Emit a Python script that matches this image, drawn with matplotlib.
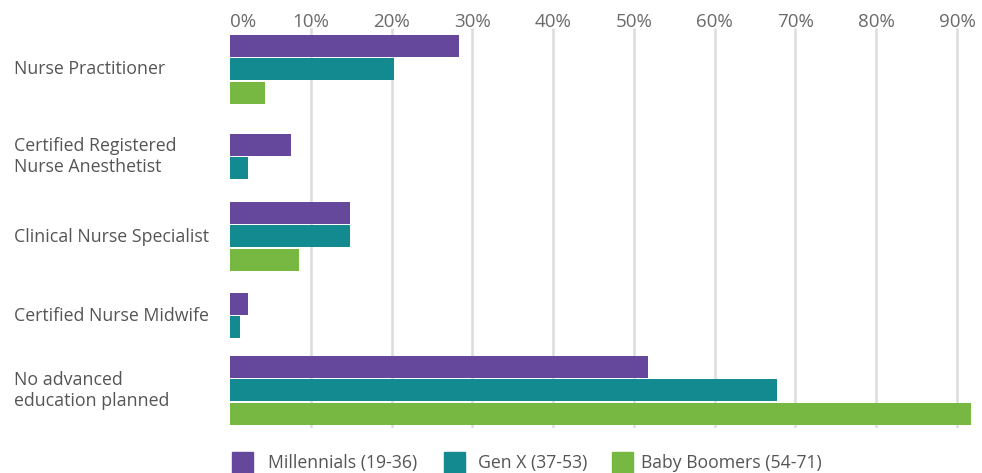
import matplotlib.pyplot as plt
from matplotlib.patches import Rectangle
from matplotlib.transforms import blended_transform_factory

plt.rcParams['font.family'] = ['Open Sans', 'DejaVu Sans']

categories = ["Nurse Practitioner",
              "Certified Registered\nNurse Anesthetist",
              "Clinical Nurse Specialist",
              "Certified Nurse Midwife",
              "No advanced\neducation planned"]
series_names = ["Millennials (19-36)", "Gen X (37-53)", "Baby Boomers (54-71)"]
millennials = [28.3, 7.5, 14.9, 2.2, 51.8]
gen_x = [20.3, 2.2, 14.9, 1.2, 67.7]
boomers = [4.3, 0.0, 8.5, 0.0, 91.8]
tick_values = [0, 10, 20, 30, 40, 50, 60, 70, 80, 90]

colours = ['#65479b', '#138990', '#77b843']
label_colour = '#555555'
tick_colour = '#6a6a6a'
grid_colour = '#dcdcdc'

# figure is laid out in pixels (dpi 100)
W, H = 982, 473
ax_top, ax_bottom = 28, 428
group_top = [35, 134, 202, 293, 356]
bar_pitch = 23.5
bar_h = 22

fig = plt.figure(figsize=(W / 100, H / 100), dpi=100)
ax = fig.add_axes([230 / W, (H - ax_bottom) / H, (W - 230) / W, (ax_bottom - ax_top) / H])
ax.set_xlim(0, 93.1)
ax.set_ylim(ax_bottom, ax_top)

ax.vlines(tick_values[1:], ax_top, ax_bottom, colors=grid_colour, linewidth=1.8, zorder=0)

label_tf = blended_transform_factory(fig.transFigure, ax.transData)
for g, name in enumerate(categories):
  values = [millennials[g], gen_x[g], boomers[g]]
  centres = []
  for s, v in enumerate(values):
    y = group_top[g] + s * bar_pitch + bar_h / 2
    ax.barh(y, v, height=bar_h, color=colours[s], zorder=2)
    if v > 0:
      centres.append(y)
  mid = sum(centres) / len(centres)
  ax.text(14 / W, mid, name, transform=label_tf, ha='left', va='center',
          fontsize=12.8, color=label_colour, linespacing=1.2)

ax.xaxis.tick_top()
ax.set_xticks(tick_values)
ax.set_xticklabels([str(t) + '%' for t in tick_values])
ax.tick_params(axis='x', length=0, pad=-2, labelsize=13.5, labelcolor=tick_colour)
ax.get_xticklabels()[0].set_horizontalalignment('left')
ax.set_yticks([])
for sp in ax.spines.values():
  sp.set_visible(False)

# legend along the bottom edge
legend_boxes = [232, 444, 612]
legend_text = [268, 478, 641]
for i in range(3):
  fig.add_artist(Rectangle((legend_boxes[i] / W, 0), 21 / W, 21 / H,
                           transform=fig.transFigure, color=colours[i]))
  fig.text(legend_text[i] / W, (H - 463) / H, series_names[i], ha='left', va='center',
           fontsize=12.7, color=label_colour)

plt.savefig('out.png', dpi=100)
